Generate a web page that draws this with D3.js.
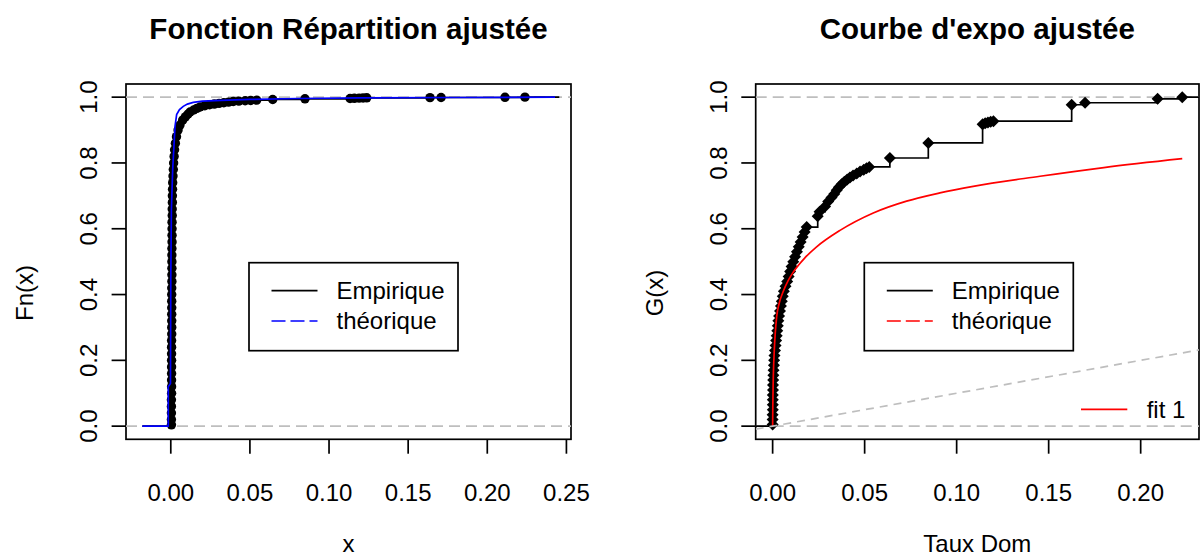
<!DOCTYPE html>
<html>
<head>
<meta charset="utf-8">
<script src="https://cdn.jsdelivr.net/npm/d3@7"></script>
<style>
    body { margin: 0; background: #fff; }
    text { font-family: "Liberation Sans", Arial, sans-serif; fill: #000; }
</style>
</head>
<body>
<svg id="chart" width="1202" height="557"></svg>
<script>
const leftEmpX = [
    0.0004, 0.0004, 0.0004, 0.0004, 0.0004, 0.0005, 0.0005, 0.0005, 0.0005, 0.0005,
    0.0005, 0.0005, 0.0005, 0.0005, 0.0006, 0.0006, 0.0006, 0.0006, 0.0006, 0.0006,
    0.0006, 0.0006, 0.0007, 0.0007, 0.0007, 0.0007, 0.0007, 0.0007, 0.0008, 0.0008,
    0.0008, 0.0008, 0.0009, 0.0009, 0.0010, 0.0010, 0.0011, 0.0012, 0.0014, 0.0016,
    0.0018, 0.0021, 0.0024, 0.0029, 0.0036, 0.0046, 0.0058, 0.0075, 0.0092, 0.0108,
    0.0122, 0.0145, 0.0165, 0.0185, 0.0215, 0.0245, 0.0275, 0.0305, 0.0335, 0.0365,
    0.0395, 0.0430, 0.0470, 0.0505, 0.0543, 0.0644, 0.0848, 0.1133, 0.1160, 0.1190,
    0.1215, 0.1238, 0.1638, 0.1708, 0.2112, 0.2238
];
const leftEmpY = [
    0.004, 0.02, 0.04, 0.06, 0.08, 0.10, 0.12, 0.14, 0.16, 0.18,
    0.20, 0.22, 0.24, 0.26, 0.28, 0.30, 0.32, 0.34, 0.36, 0.38,
    0.40, 0.42, 0.44, 0.46, 0.48, 0.50, 0.52, 0.54, 0.56, 0.58,
    0.60, 0.62, 0.64, 0.66, 0.68, 0.70, 0.72, 0.74, 0.76, 0.78,
    0.80, 0.82, 0.84, 0.86, 0.88, 0.90, 0.915, 0.93, 0.94, 0.948,
    0.955, 0.961, 0.966, 0.970, 0.974, 0.977, 0.979, 0.981, 0.983, 0.985,
    0.987, 0.988, 0.989, 0.990, 0.991, 0.993, 0.995, 0.996, 0.9965, 0.997,
    0.9975, 0.998, 0.9985, 0.999, 0.9995, 1.0
];
// left panel : fitted (blue) curve
const leftFitX = [-0.018, -0.0016, -0.0016, -0.0002, 0.0, 0.0004, 0.0012, 0.0021, 0.0027, 0.0037,
    0.0055, 0.0079, 0.0105, 0.0142, 0.020, 0.032, 0.050, 0.080, 0.120, 0.180, 0.2428];
const leftFitY = [0, 0, 0.12, 0.13, 0.45, 0.66, 0.78, 0.86, 0.912, 0.947,
    0.962, 0.972, 0.979, 0.984, 0.988, 0.990, 0.993, 0.996, 0.998, 0.999, 1.0];

// right panel : G(x) empirical points
const rightEmpX = [
    0.0000, 0.0000, 0.0000, 0.0001, 0.0001, 0.0001, 0.0001, 0.0002, 0.0002, 0.0003,
    0.0004, 0.0005, 0.0007, 0.0008, 0.0010, 0.0013, 0.0016, 0.0019, 0.0022, 0.0025,
    0.0028, 0.0031, 0.0035, 0.0040, 0.0045, 0.0050, 0.0055, 0.0061, 0.0070, 0.0079,
    0.0087, 0.0095, 0.0103, 0.0112, 0.0122, 0.0132, 0.0142, 0.0152, 0.0163, 0.0174,
    0.0185, 0.0245, 0.0255, 0.0285, 0.0302, 0.0320, 0.0335, 0.0348, 0.0360, 0.0375,
    0.0390, 0.0405, 0.0420, 0.0437, 0.0457, 0.0475, 0.0495, 0.0510, 0.0525, 0.0637,
    0.0846, 0.1141, 0.1155, 0.1170, 0.1185, 0.1200, 0.1625, 0.1698, 0.2092, 0.2226
];
const rightEmpY = [
    0.005, 0.02, 0.035, 0.05, 0.065, 0.08, 0.095, 0.11, 0.125, 0.14,
    0.155, 0.17, 0.185, 0.20, 0.215, 0.23, 0.245, 0.26, 0.275, 0.29,
    0.305, 0.32, 0.335, 0.35, 0.365, 0.38, 0.395, 0.41, 0.425, 0.44,
    0.455, 0.47, 0.485, 0.50, 0.515, 0.53, 0.545, 0.56, 0.575, 0.59,
    0.605, 0.638, 0.652, 0.668, 0.683, 0.695, 0.706, 0.717, 0.726, 0.735,
    0.743, 0.750, 0.756, 0.762, 0.768, 0.774, 0.779, 0.784, 0.788, 0.815,
    0.861, 0.918, 0.921, 0.923, 0.925, 0.927, 0.977, 0.983, 0.995, 1.0
];
// right panel : fitted (red) curve
const rightFitX = [0, 0.0001, 0.0003, 0.0009, 0.0014, 0.0022, 0.0035, 0.0058, 0.0085, 0.0112,
    0.0176, 0.0239, 0.0366, 0.0547, 0.0728, 0.0909, 0.109, 0.1453, 0.18, 0.2226];
const rightFitY = [0, 0.06, 0.13, 0.23, 0.28, 0.333, 0.372, 0.41, 0.443, 0.468,
    0.512, 0.545, 0.595, 0.648, 0.684, 0.709, 0.729, 0.7595, 0.786, 0.813];

const leftTicksX = [0, 0.05, 0.10, 0.15, 0.20, 0.25];
const rightTicksX = [0, 0.05, 0.10, 0.15, 0.20];
const ticksY = [0, 0.2, 0.4, 0.6, 0.8, 1.0];
const legendLabels = ["Empirique", "théorique"];

const svg = d3.select("#chart");
const plotTop = 84, plotBottom = 439.3;
const lineH = 28.8;

let y = d3.scaleLinear().domain([-0.04, 1.04]).range([plotBottom, plotTop]);
let xL = d3.scaleLinear().domain([-0.0283, 0.2529]).range([126, 571]);
let xR = d3.scaleLinear().domain([-0.0092, 0.2317]).range([755.7, 1199]);

function frame(x, ticksX, title, xlab, ylab, id) {
    let [l, r] = x.range();
    let g = svg.append("g");

    g.append("clipPath").attr("id", id)
        .append("rect").attr("x", l).attr("y", plotTop).attr("width", r - l).attr("height", plotBottom - plotTop);

    g.append("rect")
        .attr("x", l).attr("y", plotTop).attr("width", r - l).attr("height", plotBottom - plotTop)
        .attr("fill", "none").attr("stroke", "#000").attr("stroke-width", 1.7);

    g.selectAll(".xt").data(ticksX).enter().append("line")
        .attr("x1", d => x(d)).attr("x2", d => x(d))
        .attr("y1", plotBottom).attr("y2", plotBottom + 14.4)
        .attr("stroke", "#000").attr("stroke-width", 1.7);
    g.selectAll(".xl").data(ticksX).enter().append("text")
        .attr("x", d => x(d)).attr("y", plotBottom + 62)
        .attr("text-anchor", "middle").attr("font-size", 24)
        .text(d => d3.format(".2f")(d));

    g.selectAll(".yt").data(ticksY).enter().append("line")
        .attr("x1", l - 14.4).attr("x2", l)
        .attr("y1", d => y(d)).attr("y2", d => y(d))
        .attr("stroke", "#000").attr("stroke-width", 1.7);
    g.selectAll(".yl").data(ticksY).enter().append("text")
        .attr("transform", d => `translate(${l - lineH},${y(d)}) rotate(-90)`)
        .attr("text-anchor", "middle").attr("font-size", 24)
        .text(d => d3.format(".1f")(d));

    g.append("text").attr("x", (l + r) / 2).attr("y", 39)
        .attr("text-anchor", "middle").attr("font-size", 29.5).attr("font-weight", "bold")
        .text(title);
    g.append("text").attr("x", (l + r) / 2).attr("y", 552)
        .attr("text-anchor", "middle").attr("font-size", 24)
        .text(xlab);
    g.append("text")
        .attr("transform", `translate(${l - 93},293) rotate(-90)`)
        .attr("text-anchor", "middle").attr("font-size", 24)
        .text(ylab);

    // reference lines at 0 and 1
    let plot = svg.append("g").attr("clip-path", `url(#${id})`);
    plot.selectAll(".h").data([0, 1]).enter().append("line")
        .attr("x1", l).attr("x2", r)
        .attr("y1", d => y(d)).attr("y2", d => y(d))
        .attr("stroke", "#bebebe").attr("stroke-width", 1.7).attr("stroke-dasharray", "11,6");
    return plot;
}

function legendBox(l, col, dash) {
    let g = svg.append("g");
    g.append("rect").attr("x", l).attr("y", 262.7).attr("width", 209).attr("height", 88)
        .attr("fill", "#fff").attr("stroke", "#000").attr("stroke-width", 1.7);
    g.selectAll("line").data(legendLabels).enter().append("line")
        .attr("x1", l + 22.5).attr("x2", l + 68.5)
        .attr("y1", (d, i) => 290.7 + i * 30.3).attr("y2", (d, i) => 290.7 + i * 30.3)
        .attr("stroke", (d, i) => i === 0 ? "#000" : col)
        .attr("stroke-width", 1.7)
        .attr("stroke-dasharray", (d, i) => i === 0 ? null : dash);
    g.selectAll("text").data(legendLabels).enter().append("text")
        .attr("x", l + 87.5).attr("y", (d, i) => 290.7 + i * 30.3)
        .attr("dy", "0.35em").attr("font-size", 24)
        .text(d => d);
}

// ---- left panel
let pL = frame(xL, leftTicksX, "Fonction Répartition ajustée", "x", "Fn(x)", "clipL");
let leftEmp = leftEmpX.map((d, i) => [d, leftEmpY[i]]);
let leftStep = [[-0.018, 0]].concat(leftEmp, [[0.2455, 1]]);

pL.append("path")
    .attr("d", d3.line().x(d => xL(d[0])).y(d => y(d[1])).curve(d3.curveStepAfter)(leftStep))
    .attr("fill", "none").attr("stroke", "#000").attr("stroke-width", 1.7);
pL.append("g").selectAll("circle")
    .data(leftEmp)
    .enter()
    .append("circle")
    .attr("cx", d => xL(d[0]))
    .attr("cy", d => y(d[1]))
    .attr("r", 4.7)
    .attr("fill", "#000");
pL.append("path")
    .attr("d", d3.line().x((d, i) => xL(d)).y((d, i) => y(leftFitY[i]))(leftFitX))
    .attr("fill", "none").attr("stroke", "#0000ff").attr("stroke-width", 1.7);

legendBox(249, "#0000ff", "14,5");

// ---- right panel
let pR = frame(xR, rightTicksX, "Courbe d'expo ajustée", "Taux Dom", "G(x)", "clipR");
let rightEmp = rightEmpX.map((d, i) => [d, rightEmpY[i]]);
let rightStep = [[-0.0092, 0]].concat(rightEmp, [[0.2317, 1]]);

pR.append("path")
    .attr("d", d3.line().x(d => xR(d[0])).y(d => y(d[1])).curve(d3.curveStepAfter)(rightStep))
    .attr("fill", "none").attr("stroke", "#000").attr("stroke-width", 1.7);
pR.append("g").selectAll("path")
    .data(rightEmp)
    .enter()
    .append("path")
    .attr("transform", d => `translate(${xR(d[0])},${y(d[1])})`)
    .attr("d", "M0,-6L6,0L0,6L-6,0Z")
    .attr("fill", "#000");
pR.append("path")
    .attr("d", d3.line().x(d => xR(d)).y((d, i) => y(rightFitY[i])).curve(d3.curveMonotoneX)(rightFitX))
    .attr("fill", "none").attr("stroke", "#ff0000").attr("stroke-width", 1.7);
// diagonal y = x
pR.append("line")
    .attr("x1", xR(-0.0092)).attr("y1", y(-0.0092))
    .attr("x2", xR(0.2317)).attr("y2", y(0.2317))
    .attr("stroke", "#bebebe").attr("stroke-width", 1.7).attr("stroke-dasharray", "8,6");

legendBox(864.3, "#ff0000", "14,5");

let fit = svg.append("g");
fit.append("line").attr("x1", 1081).attr("x2", 1127.3).attr("y1", 409.3).attr("y2", 409.3)
    .attr("stroke", "#ff0000").attr("stroke-width", 1.7);
fit.append("text").attr("x", 1146.7).attr("y", 409.3).attr("dy", "0.35em")
    .attr("font-size", 24).text("fit 1");
</script>
</body>
</html>
